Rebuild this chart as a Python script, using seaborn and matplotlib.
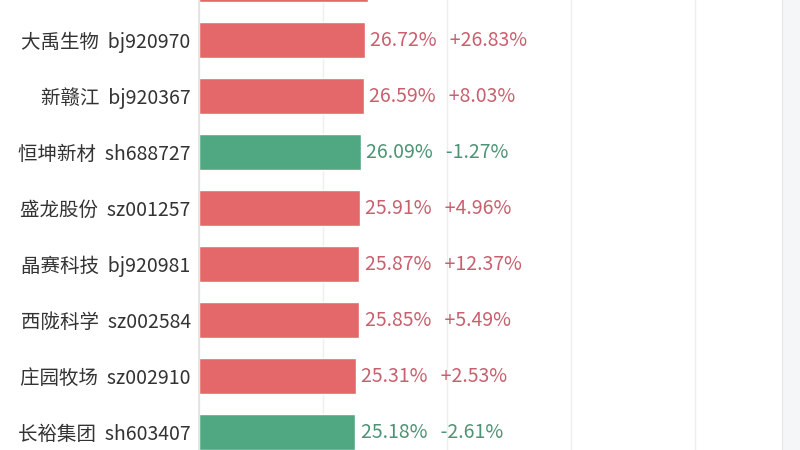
import pandas as pd
import matplotlib.pyplot as plt
import seaborn as sns

# rows top to bottom; first row is cut off at the top edge of the picture
names = ["", "大禹生物", "新赣江", "恒坤新材", "盛龙股份", "晶赛科技", "西陇科学", "庄园牧场", "长裕集团"]
codes = ["", "bj920970", "bj920367", "sh688727", "sz001257", "bj920981", "sz002584", "sz002910", "sh603407"]
values = [27.2, 26.72, 26.59, 26.09, 25.91, 25.87, 25.85, 25.31, 25.18]
changes = [None, 26.83, 8.03, -1.27, 4.96, 12.37, 5.49, 2.53, -2.61]

RED = "#e4676a"
GREEN = "#4fa882"
RED_TXT = "#c9606e"
GREEN_TXT = "#4e9474"

labels = [f"{n}  {c}" if n else " " for n, c in zip(names, codes)]
direction = ["down" if (c is not None and c < 0) else "up" for c in changes]
df = pd.DataFrame({"label": labels, "value": values, "dir": direction})

sns.set_theme(style="white")
plt.rcParams['font.family'] = ['Noto Sans CJK SC', 'DejaVu Sans']

fig = plt.figure(figsize=(8, 4.5), dpi=100)
# light panel at the right edge
fig.patches.append(plt.Rectangle((783 / 800, 0), 17 / 800, 1, transform=fig.transFigure,
                                 facecolor="#f5f6f8", edgecolor="none", zorder=0))
ax = fig.add_axes([199 / 800, 0, 584 / 800, 1])

sns.barplot(data=df, x="value", y="label", hue="dir", palette={"up": RED, "down": GREEN},
            dodge=False, width=0.64, legend=False, saturation=1, ax=ax)

ax.set_xlim(0, 584 / 6.2)
ax.set_ylim(466 / 56, 16 / 56)
ax.set_xticks([0, 20, 40, 60, 80])
ax.xaxis.grid(True, color="#eeeeee", linewidth=1)
ax.set_axisbelow(True)
ax.set_xlabel("")
ax.set_ylabel("")
ax.tick_params(axis="x", bottom=False, labelbottom=False)
ax.tick_params(axis="y", left=False, length=0, pad=6, labelsize=14, labelcolor="#333333")

for s in ["top", "bottom"]:
    ax.spines[s].set_visible(False)
ax.spines["left"].set_color("#e2e2e2")
ax.spines["right"].set_color("#e0e0e0")

for i, (v, c) in enumerate(zip(values, changes)):
    if c is None:
        continue
    col = GREEN_TXT if c < 0 else RED_TXT
    ax.annotate(f"{v:.2f}%   {c:+.2f}%", (v, i), xytext=(4, 0), textcoords="offset points",
                va="center", ha="left", fontsize=14, color=col)

fig.savefig("out.png", dpi=100)
